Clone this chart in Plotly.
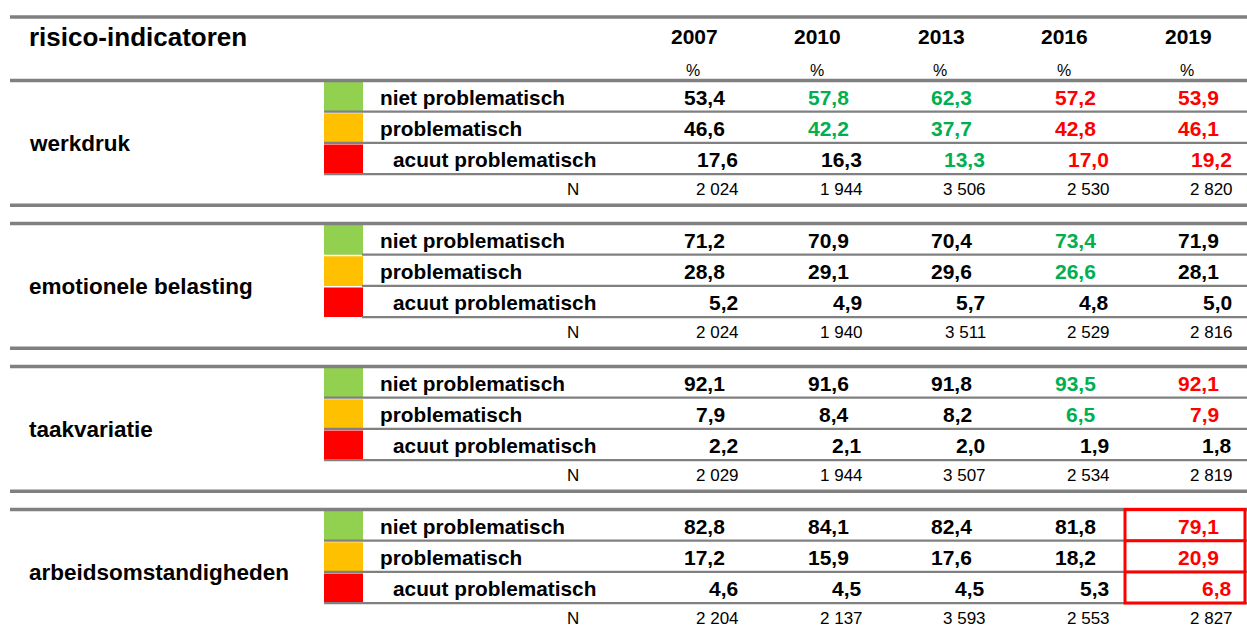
import plotly.graph_objects as go

# ---------------- data ----------------
title = "risico-indicatoren"
years = ["2007", "2010", "2013", "2016", "2019"]
unit = "%"
groups = ["werkdruk", "emotionele belasting", "taakvariatie", "arbeidsomstandigheden"]
levels = ["niet problematisch", "problematisch", "acuut problematisch"]
n_label = "N"

werkdruk_niet = [53.4, 57.8, 62.3, 57.2, 53.9]
werkdruk_prob = [46.6, 42.2, 37.7, 42.8, 46.1]
werkdruk_acuut = [17.6, 16.3, 13.3, 17.0, 19.2]
werkdruk_n = [2024, 1944, 3506, 2530, 2820]

emotioneel_niet = [71.2, 70.9, 70.4, 73.4, 71.9]
emotioneel_prob = [28.8, 29.1, 29.6, 26.6, 28.1]
emotioneel_acuut = [5.2, 4.9, 5.7, 4.8, 5.0]
emotioneel_n = [2024, 1940, 3511, 2529, 2816]

taakvariatie_niet = [92.1, 91.6, 91.8, 93.5, 92.1]
taakvariatie_prob = [7.9, 8.4, 8.2, 6.5, 7.9]
taakvariatie_acuut = [2.2, 2.1, 2.0, 1.9, 1.8]
taakvariatie_n = [2029, 1944, 3507, 2534, 2819]

arbeids_niet = [82.8, 84.1, 82.4, 81.8, 79.1]
arbeids_prob = [17.2, 15.9, 17.6, 18.2, 20.9]
arbeids_acuut = [4.6, 4.5, 4.5, 5.3, 6.8]
arbeids_n = [2204, 2137, 3593, 2553, 2827]

# significant change vs. previous measurement: "+" better, "-" worse, "" none
werkdruk_sig = [["", "+", "+", "-", "-"], ["", "+", "+", "-", "-"], ["", "", "+", "-", "-"]]
emotioneel_sig = [["", "", "", "+", ""], ["", "", "", "+", ""], ["", "", "", "", ""]]
taakvariatie_sig = [["", "", "", "+", "-"], ["", "", "", "+", "-"], ["", "", "", "", ""]]
arbeids_sig = [["", "", "", "", "-"], ["", "", "", "", "-"], ["", "", "", "", "-"]]

highlight = (3, 4)  # (group, year) outlined in red

values = [
    [werkdruk_niet, werkdruk_prob, werkdruk_acuut],
    [emotioneel_niet, emotioneel_prob, emotioneel_acuut],
    [taakvariatie_niet, taakvariatie_prob, taakvariatie_acuut],
    [arbeids_niet, arbeids_prob, arbeids_acuut],
]
ns = [werkdruk_n, emotioneel_n, taakvariatie_n, arbeids_n]
sigs = [werkdruk_sig, emotioneel_sig, taakvariatie_sig, arbeids_sig]

# ---------------- style ----------------
W, H = 1247, 627
FONT = "Liberation Sans, Arial, sans-serif"
GRAY = "#808080"
SIG_COL = {"+": "#00B050", "-": "#FF0000", "": "#000000"}
BOX_COL = ["#92D050", "#FFC000", "#FF0000"]

G0, GSTEP, RH = 80.5, 143.0, 31.2
COL0, CSTEP = 727.0, 123.5
COL0_B = 740.0
YEAR_C = 694.0

def fmt(v):
    return f"{v:.1f}".replace(".", ",")

def fmt_n(n):
    return f"{n:,}".replace(",", " ")

shapes = []
ann = []

def line(x0, x1, y, w, c=GRAY):
    shapes.append(dict(type="line", xref="x", yref="y", x0=x0, x1=x1, y0=y, y1=y,
                       line=dict(color=c, width=w)))

def text(x, y, s, size, bold=False, color="#000", anchor="left"):
    ann.append(dict(xref="x", yref="y", x=x, y=y, text=f"<b>{s}</b>" if bold else s,
                    showarrow=False, xanchor=anchor, yanchor="middle",
                    font=dict(family=FONT, size=size, color=color)))

# header
line(10, W, 17, 3.5)
text(27, 37, title, 26, bold=True)
for i, yr in enumerate(years):
    text(YEAR_C + CSTEP * i, 36, yr, 21, bold=True, anchor="center")
    text(YEAR_C - 1 + CSTEP * i, 70, unit, 16, anchor="center")

for g, gname in enumerate(groups):
    top = G0 + GSTEP * g
    # thick lines
    line(10, W, top, 3.5)
    line(10, W, top + 4 * RH, 3.5)
    # colored boxes
    for r in range(3):
        shapes.append(dict(type="rect", xref="x", yref="y", x0=324, x1=363,
                           y0=top + 1.5 + RH * r, y1=top + RH * (r + 1),
                           fillcolor=BOX_COL[r], line=dict(width=0), layer="below"))
    # thin lines
    xs = 362 if g == 1 else 324
    for r in range(3):
        line(xs, W, top + RH * (r + 1), 2.2)
    # group label
    text(27, top + 63, gname, 22.5, bold=True)
    # row labels
    for r, lv in enumerate(levels):
        text(391 if r == 2 else 378, top + RH * r + RH / 2 + 1, lv, 20.8, bold=True)
    text(581, top + 3 * RH + RH / 2, n_label, 17, anchor="right")
    # values
    for r in range(3):
        for i in range(len(years)):
            xr = (COL0_B if r == 2 else COL0) + CSTEP * i
            text(xr, top + RH * r + RH / 2 + 1, fmt(values[g][r][i]), 21, bold=True,
                 color=SIG_COL[sigs[g][r][i]], anchor="right")
    for i in range(len(years)):
        text(COL0_B + 1 + CSTEP * i, top + 3 * RH + RH / 2, fmt_n(ns[g][i]), 17,
             anchor="right")

# highlight box
hg, hy = highlight
htop = G0 + GSTEP * hg
hx0 = COL0 + CSTEP * hy - 96
shapes.append(dict(type="rect", xref="x", yref="y", x0=hx0, x1=W - 2,
                   y0=htop, y1=htop + 3 * RH, line=dict(color="#FF0000", width=3)))
for r in (1, 2):
    line(hx0, W - 2, htop + RH * r, 3, "#FF0000")

fig = go.Figure()
fig.add_trace(go.Scatter(x=[0, W], y=[0, H], mode="markers",
                         marker=dict(opacity=0), hoverinfo="skip", showlegend=False))
fig.update_layout(
    width=W, height=H, margin=dict(l=0, r=0, t=0, b=0),
    paper_bgcolor="white", plot_bgcolor="white",
    xaxis=dict(range=[0, W], visible=False, fixedrange=True),
    yaxis=dict(range=[H, 0], visible=False, fixedrange=True),
    shapes=shapes, annotations=ann, showlegend=False, hovermode=False,
)
fig.write_html("out.html", config={"displayModeBar": False, "staticPlot": True},
               post_script="document.body.style.margin='0';document.body.style.overflow='hidden';")
